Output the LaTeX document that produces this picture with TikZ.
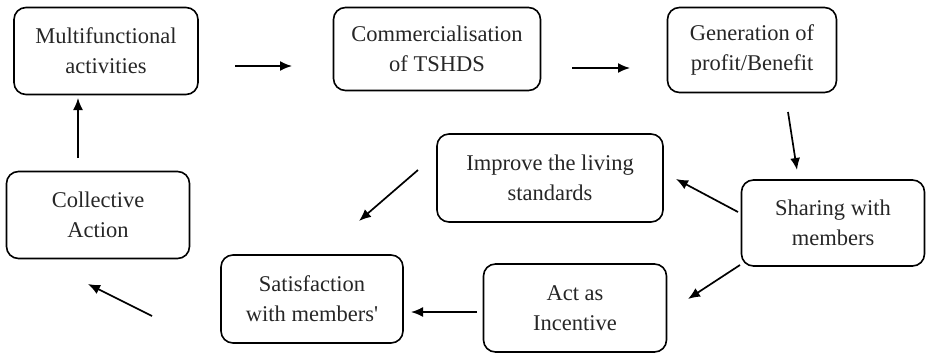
\documentclass[tikz,border=0pt]{standalone}
\usepackage{fontspec}
\setmainfont{Liberation Serif}
\usetikzlibrary{arrows.meta}
\begin{document}
\begin{tikzpicture}[x=1pt,y=-1pt,
  stagebox/.style={draw, line width=1.6pt, rounded corners=12pt, align=center,
    inner sep=0pt, font=\fontsize{22.5}{30}\selectfont, text=black!85},
  flow/.style={line width=1.7pt, -{Latex[length=12pt,width=10pt]}}]
\useasboundingbox (0,0) rectangle (927,354);
% stages of the cycle
\node[stagebox, minimum width=184pt, minimum height=87pt] (multi) at (106,51) {Multifunctional\\activities};
\node[stagebox, minimum width=207pt, minimum height=83pt] (comm) at (437,49) {Commercialisation\\of TSHDS};
\node[stagebox, minimum width=169pt, minimum height=85pt] (gen) at (752,50) {Generation of\\profit/Benefit};
\node[stagebox, minimum width=226pt, minimum height=88pt] (improve) at (550,178) {Improve the living\\standards};
\node[stagebox, minimum width=183pt, minimum height=86pt] (share) at (833,223) {Sharing with\\members};
\node[stagebox, minimum width=183pt, minimum height=88pt] (incent) at (575,308) {Act as\\Incentive};
\node[stagebox, minimum width=182pt, minimum height=88pt] (satis) at (312,299) {Satisfaction\\with members\textquotesingle};
\node[stagebox, minimum width=183pt, minimum height=87pt] (coll) at (98,215) {Collective\\Action};
% free-standing arrow ends between the stages
\coordinate (a1s) at (235,66);  \coordinate (a1e) at (292,66);
\coordinate (a2s) at (572,68);  \coordinate (a2e) at (630,68);
\coordinate (a3s) at (788,112); \coordinate (a3e) at (797,170);
\coordinate (a4s) at (738,212); \coordinate (a4e) at (676,179);
\coordinate (a5s) at (740,265); \coordinate (a5e) at (688,299);
\coordinate (a6s) at (477,312); \coordinate (a6e) at (411,312);
\coordinate (a7s) at (418,170); \coordinate (a7e) at (359,221);
\coordinate (a8s) at (152,316); \coordinate (a8e) at (88,284);
\coordinate (a9s) at (78,158);  \coordinate (a9e) at (78,98);
\foreach \k in {1,...,9} \draw[flow] (a\k s) -- (a\k e);
\end{tikzpicture}
\end{document}
